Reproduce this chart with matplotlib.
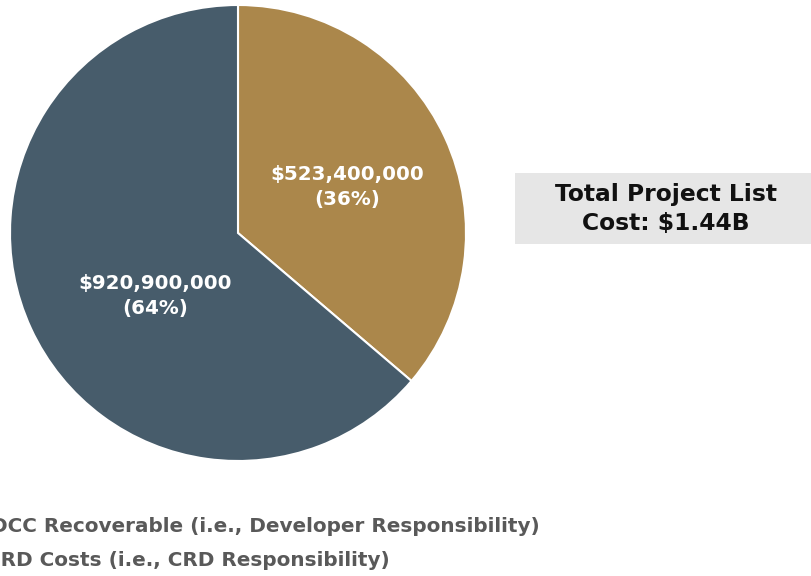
import matplotlib
matplotlib.use("Agg")
import matplotlib.pyplot as plt
from matplotlib.patches import Rectangle

# Cost split (millions of dollars)
labels = ["DCC Recoverable (i.e., Developer Responsibility)",
          "CRD Costs (i.e., CRD Responsibility)"]
values = [920.9, 523.4]
colors = ["#475c6b", "#ab874b"]
total_text = "Total Project List\nCost: $1.44B"

plt.rcParams["font.family"] = ["DejaVu Sans"]

fig = plt.figure(figsize=(8.11, 5.76), dpi=100)
ax = fig.add_axes([0, 0, 1, 1])

total = sum(values)
# gold slice starts at 12 o'clock and runs clockwise
wedges, _ = ax.pie(values[::-1], colors=colors[::-1], startangle=90,
                   counterclock=False, center=(238, 343), radius=228,
                   wedgeprops=dict(edgecolor="white", linewidth=1.5),
                   frame=True)
ax.set_xlim(0, 811)
ax.set_ylim(0, 576)
ax.set_aspect("equal")
ax.axis("off")

def fmt(v):
    return f"${v * 1e6:,.0f}\n({v / total * 100:.0f}%)"

ax.text(347, 389, fmt(values[1]), ha="center", va="center", color="white",
        fontsize=14.3, fontweight="bold", linespacing=1.45)
ax.text(155, 280, fmt(values[0]), ha="center", va="center", color="white",
        fontsize=14.3, fontweight="bold", linespacing=1.45)

# total cost callout
ax.add_patch(Rectangle((515, 332), 300, 71, facecolor="#e6e6e6",
                       edgecolor="none"))
ax.text(666, 367, total_text, ha="center", va="center", color="#111111",
        fontsize=16.8, fontweight="bold", linespacing=1.3)

# legend rows, running off the left edge
ax.text(540, 49, labels[0], ha="right", va="center", color="#595959",
        fontsize=14.4, fontweight="bold")
ax.text(390, 16, labels[1], ha="right", va="center", color="#595959",
        fontsize=14.4, fontweight="bold")

fig.savefig("out.png", dpi=100)
